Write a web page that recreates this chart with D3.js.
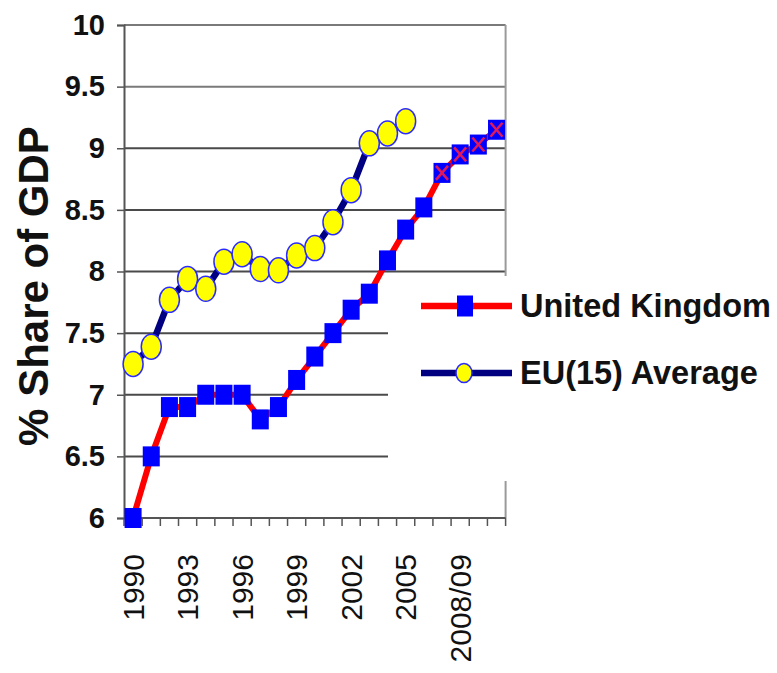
<!DOCTYPE html>
<html>
<head>
<meta charset="utf-8">
<script src="https://cdn.jsdelivr.net/npm/d3@7"></script>
<style>
  html, body { margin: 0; padding: 0; background: #fff; }
  svg { display: block; }
  text { font-family: "Liberation Sans", Arial, sans-serif; }
</style>
</head>
<body>
<svg id="chart" width="777" height="673"></svg>
<script>
// Health spending as a share of GDP
const categories = ["1990","1991","1992","1993","1994","1995","1996","1997","1998","1999",
  "2000","2001","2002","2003","2004","2005","2006","2007","2008/09","2009/10","2010/11"];
const ukValues = [6.0, 6.5, 6.9, 6.9, 7.0, 7.0, 7.0, 6.8, 6.9, 7.12, 7.31, 7.5, 7.69, 7.82,
  8.09, 8.34, 8.52, 8.8, 8.95, 9.03, 9.15];
const euCategories = categories.slice(0, 16);
const euValues = [7.25, 7.39, 7.77, 7.94, 7.86, 8.08, 8.14, 8.02, 8.01, 8.13, 8.19, 8.4,
  8.66, 9.04, 9.12, 9.22];
// UK points marked with a cross (planned figures)
const ukPlanned = ["2007", "2008/09", "2009/10", "2010/11"];
const yTicks = [6, 6.5, 7, 7.5, 8, 8.5, 9, 9.5, 10];
const xTickLabels = ["1990", "1993", "1996", "1999", "2002", "2005", "2008/09"];
const seriesNames = ["United Kingdom", "EU(15) Average"];

const svg = d3.select("#chart");
const plotL = 124, plotR = 505.6, plotT = 25, plotB = 518;

const x = d3.scaleBand().domain(categories).range([plotL, plotR]).padding(0);
const cx = c => x(c) + x.bandwidth() / 2;
const y = d3.scaleLinear().domain([6, 10]).range([plotB, plotT]);

// horizontal gridlines
svg.append("g").selectAll("line")
  .data(yTicks.filter(v => v > 6))
  .join("line")
  .attr("x1", plotL).attr("x2", plotR)
  .attr("y1", d => y(d)).attr("y2", d => y(d))
  .attr("stroke", d => d >= 9.5 ? "#7a7a7a" : "#4a4a4a").attr("stroke-width", 2);

// right frame edge
svg.append("line")
  .attr("x1", plotR).attr("x2", plotR).attr("y1", plotT).attr("y2", plotB)
  .attr("stroke", "#9a9a9a").attr("stroke-width", 2);

// y axis
const yAxis = svg.append("g")
  .attr("transform", `translate(${plotL},0)`)
  .call(d3.axisLeft(y).tickValues(yTicks).tickSize(7).tickPadding(12)
    .tickFormat(d3.format("~g")));
yAxis.select(".domain").attr("stroke", "#555").attr("stroke-width", 2);
yAxis.selectAll(".tick line").attr("stroke", "#555").attr("stroke-width", 1.5);
yAxis.selectAll(".tick text")
  .attr("fill", "#111").style("font-size", "29px").style("font-weight", "bold")
  .style("font-family", "'Liberation Sans', Arial, sans-serif");

// x axis: baseline and boundary ticks
svg.append("line")
  .attr("x1", plotL).attr("x2", plotR).attr("y1", plotB).attr("y2", plotB)
  .attr("stroke", "#555").attr("stroke-width", 2);
const boundaries = categories.map(c => x(c)).concat([x.range()[1]]);
svg.append("g").selectAll("line")
  .data(boundaries)
  .join("line")
  .attr("x1", d => d).attr("x2", d => d)
  .attr("y1", plotB).attr("y2", plotB + 8)
  .attr("stroke", "#555").attr("stroke-width", 1.5);

svg.append("g").selectAll("text")
  .data(xTickLabels)
  .join("text")
  .attr("transform", d => `translate(${cx(d)},554) rotate(-90)`)
  .attr("text-anchor", "end")
  .attr("dy", "0.36em")
  .attr("fill", "#111")
  .style("font-size", "30px")
  .text(d => d);

// y axis title
svg.append("text")
  .attr("transform", "translate(48,286) rotate(-90)")
  .attr("text-anchor", "middle")
  .attr("fill", "#111")
  .style("font-size", "42px").style("font-weight", "bold")
  .text("% Share of GDP");

// EU(15) average line
const euData = euCategories.map((c, i) => ({ c, v: euValues[i] }));
svg.append("path")
  .datum(euData)
  .attr("fill", "none").attr("stroke", "#000080").attr("stroke-width", 6.5)
  .attr("stroke-linejoin", "round")
  .attr("d", d3.line().x(d => cx(d.c)).y(d => y(d.v)));

// UK line
const ukData = categories.map((c, i) => ({ c, v: ukValues[i] }));
svg.append("path")
  .datum(ukData)
  .attr("fill", "none").attr("stroke", "#ff0000").attr("stroke-width", 6)
  .attr("stroke-linejoin", "round")
  .attr("d", d3.line().x(d => cx(d.c)).y(d => y(d.v)));

// EU markers
svg.append("g").selectAll("ellipse")
  .data(euData)
  .join("ellipse")
  .attr("cx", d => cx(d.c)).attr("cy", d => y(d.v))
  .attr("rx", 10).attr("ry", 12.5)
  .attr("fill", "#ffff00").attr("stroke", "#2b2bff").attr("stroke-width", 1.5);

// UK markers
const sqW = 17, sqH = 20;
svg.append("g").selectAll("rect")
  .data(ukData)
  .join("rect")
  .attr("x", d => cx(d.c) - sqW / 2).attr("y", d => y(d.v) - sqH / 2)
  .attr("width", sqW).attr("height", sqH)
  .attr("fill", "#0000ff");

// crosses on planned UK points
const crossData = ukData.filter(d => ukPlanned.includes(d.c));
const cross = svg.append("g").selectAll("g")
  .data(crossData)
  .join("g")
  .attr("transform", d => `translate(${cx(d.c)},${y(d.v)})`);
cross.append("line").attr("x1", -6).attr("y1", -7).attr("x2", 6).attr("y2", 7);
cross.append("line").attr("x1", -6).attr("y1", 7).attr("x2", 6).attr("y2", -7);
cross.selectAll("line").attr("stroke", "#e0185c").attr("stroke-width", 2.5);

// legend panel
const legend = svg.append("g");
legend.append("rect")
  .attr("x", 388).attr("y", 276).attr("width", 389).attr("height", 205)
  .attr("fill", "#fff");

const legendRows = [
  { name: seriesNames[0], y: 306, line: "#ff0000", marker: "square" },
  { name: seriesNames[1], y: 373, line: "#000080", marker: "ellipse" }
];
legendRows.forEach(r => {
  legend.append("line")
    .attr("x1", 421).attr("x2", 512).attr("y1", r.y).attr("y2", r.y)
    .attr("stroke", r.line).attr("stroke-width", 6.5);
  if (r.marker === "square") {
    legend.append("rect")
      .attr("x", 465 - 8).attr("y", r.y - 10.5).attr("width", 16).attr("height", 21)
      .attr("fill", "#0000ff");
  } else {
    legend.append("ellipse")
      .attr("cx", 464).attr("cy", r.y).attr("rx", 8).attr("ry", 9.5)
      .attr("fill", "#ffff00").attr("stroke", "#2b2bff").attr("stroke-width", 1.5);
  }
  legend.append("text")
    .attr("x", 520).attr("y", r.y + 11)
    .attr("fill", "#111")
    .style("font-size", "32.5px").style("font-weight", "bold")
    .text(r.name);
});
</script>
</body>
</html>
